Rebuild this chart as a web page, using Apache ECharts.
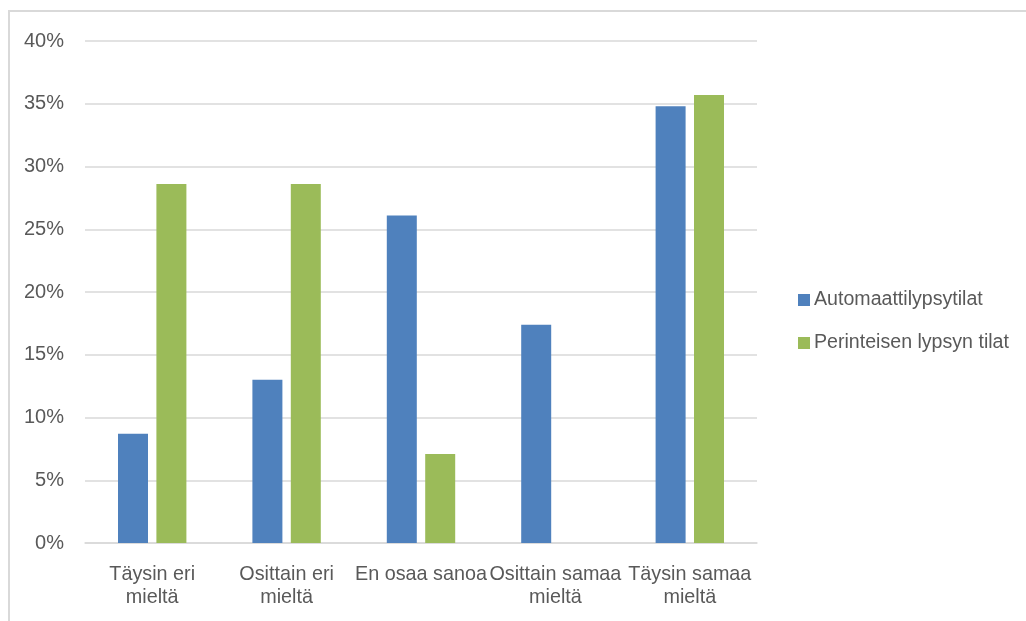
<!DOCTYPE html>
<html>
<head>
<meta charset="utf-8">
<script src="https://cdn.jsdelivr.net/npm/echarts@6/dist/echarts.min.js"></script>
<style>
  html, body { margin: 0; padding: 0; background: #fff; }
  #frame { position: absolute; left: 8px; top: 10px; right: 0; bottom: 0;
           border-top: 2px solid #d9d9d9; border-left: 2px solid #d9d9d9; }
  #chart { position: absolute; left: 0; top: 0; width: 1026px; height: 621px; }
</style>
</head>
<body>
<div id="frame"></div>
<div id="chart"></div>
<script>
// Survey answers by farm type (share of respondents, %)
const categories = ['Täysin eri mieltä', 'Osittain eri mieltä', 'En osaa sanoa', 'Osittain samaa mieltä', 'Täysin samaa mieltä'];
const seriesNames = ['Automaattilypsytilat', 'Perinteisen lypsyn tilat'];
const automaatti = [8.7, 13.0, 26.1, 17.4, 34.8];
const perinteinen = [28.6, 28.6, 7.1, 0, 35.7];
const colors = ['#4f81bd', '#9bbb59'];

const textColor = '#595959';
const font = 'Liberation Sans, Arial, sans-serif';

const chart = echarts.init(document.getElementById('chart'));
chart.setOption({
  animation: false,
  textStyle: { fontFamily: font },
  grid: { left: 85, right: 269, top: 41, bottom: 78 },
  legend: {
    orient: 'vertical',
    left: 793,
    top: 285,
    itemWidth: 12,
    itemHeight: 12,
    itemGap: 23,
    icon: 'rect',
    textStyle: { color: textColor, fontSize: 19.6, fontFamily: font, padding: [0, 0, 0, -1] },
    data: seriesNames
  },
  xAxis: {
    type: 'category',
    data: categories,
    axisLine: { lineStyle: { color: '#d9d9d9', width: 1.5 } },
    axisTick: { show: false },
    axisLabel: {
      interval: 0,
      color: textColor,
      fontSize: 19.8,
      lineHeight: 23,
      margin: 20,
      formatter: v => v.length > 14 ? v.replace(/ (\S+)$/, '\n$1') : v
    }
  },
  yAxis: {
    type: 'value',
    min: 0,
    max: 40,
    interval: 5,
    axisLine: { show: false },
    axisTick: { show: false },
    splitLine: { lineStyle: { color: '#d9d9d9', width: 1.5 } },
    axisLabel: { color: textColor, fontSize: 20, margin: 21, formatter: '{value}%', padding: [3, 0, 0, 0] }
  },
  series: [
    { name: seriesNames[0], type: 'bar', data: automaatti, barWidth: 30, barGap: '28%', itemStyle: { color: colors[0] } },
    { name: seriesNames[1], type: 'bar', data: perinteinen, barWidth: 30, barGap: '28%', itemStyle: { color: colors[1] } }
  ]
});
</script>
</body>
</html>
